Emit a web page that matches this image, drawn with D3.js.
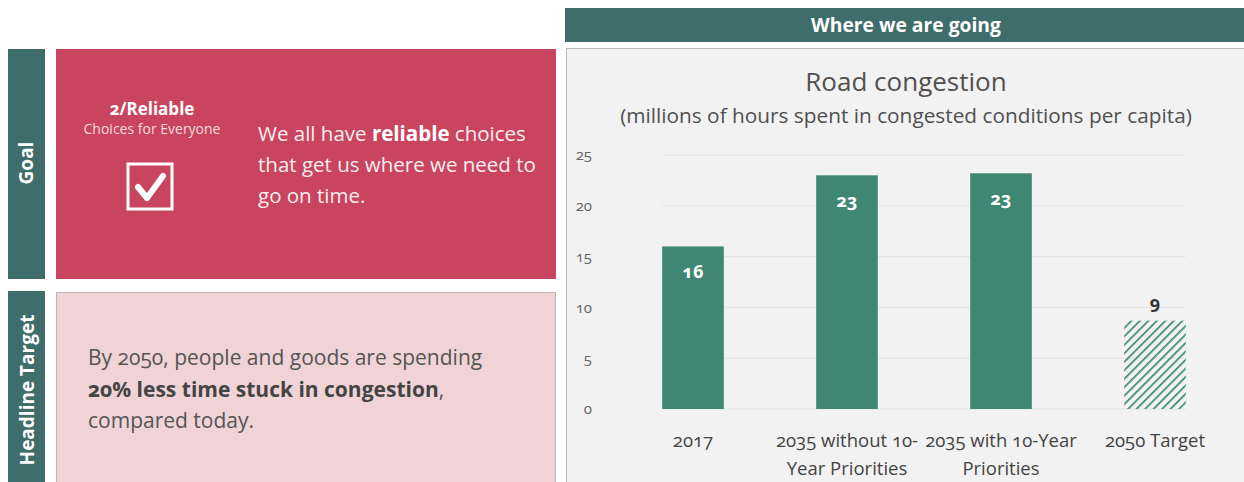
<!DOCTYPE html>
<html>
<head>
<meta charset="utf-8">
<script src="https://cdn.jsdelivr.net/npm/d3@7"></script>
<style>
  body { margin: 0; background: #fff; }
  svg { display: block; font-family: "Open Sans", Lato, sans-serif; font-variant-numeric: oldstyle-nums; }
</style>
</head>
<body>
<svg id="chart" width="1244" height="482"></svg>
<script>
// chart data
var categories = ["2017", "2035 without 10-Year Priorities", "2035 with 10-Year Priorities", "2050 Target"];
var categoryLines = [["2017"], ["2035 without 10-", "Year Priorities"], ["2035 with 10-Year", "Priorities"], ["2050 Target"]];
var values = [16, 23, 23.2, 8.7];
var valueLabels = ["16", "23", "23", "9"];
var hatched = [false, false, false, true];
var yTicks = [0, 5, 10, 15, 20, 25];

var svg = d3.select("#chart");
var teal = "#3f6d6c", green = "#3f8772";

// ---- left: goal panel
svg.append("rect").attr("x", 8).attr("y", 49).attr("width", 37).attr("height", 230).attr("fill", teal);
svg.append("text").attr("transform", "translate(33,163) rotate(-90)")
  .attr("text-anchor", "middle").attr("fill", "#fff").attr("font-weight", "bold")
  .attr("font-size", 19).text("Goal");

svg.append("rect").attr("x", 56).attr("y", 49).attr("width", 500).attr("height", 230).attr("fill", "#c9445f");
svg.append("text").attr("x", 152).attr("y", 115).attr("text-anchor", "middle")
  .attr("fill", "#fff").attr("font-weight", "bold").attr("font-size", 17).text("2/Reliable");
svg.append("text").attr("x", 152).attr("y", 134).attr("text-anchor", "middle")
  .attr("fill", "#f6d9de").attr("font-size", 14).text("Choices for Everyone");
// checkbox
svg.append("rect").attr("x", 128).attr("y", 164).attr("width", 44).attr("height", 45)
  .attr("fill", "none").attr("stroke", "#fff").attr("stroke-width", 3);
svg.append("path").attr("d", "M138,187 L147,198 L163,176")
  .attr("fill", "none").attr("stroke", "#fff").attr("stroke-width", 6)
  .attr("stroke-linecap", "round").attr("stroke-linejoin", "round");

var goalText = svg.append("text").attr("x", 258).attr("fill", "#fbeef0").attr("font-size", 20.5);
var l1 = goalText.append("tspan").attr("x", 258).attr("y", 141);
l1.append("tspan").text("We all have ");
l1.append("tspan").attr("font-weight", "bold").attr("fill", "#fff").text("reliable");
l1.append("tspan").text(" choices");
goalText.append("tspan").attr("x", 258).attr("y", 172).text("that get us where we need to");
goalText.append("tspan").attr("x", 258).attr("y", 203).text("go on time.");

// ---- left: headline target panel
svg.append("rect").attr("x", 8).attr("y", 291).attr("width", 37).attr("height", 191).attr("fill", teal);
svg.append("text").attr("transform", "translate(34,390) rotate(-90)")
  .attr("text-anchor", "middle").attr("fill", "#fff").attr("font-weight", "bold")
  .attr("font-size", 19).text("Headline Target");

svg.append("rect").attr("x", 56.5).attr("y", 292.5).attr("width", 499).attr("height", 200)
  .attr("fill", "#f0d3d6").attr("stroke", "#c4b3b5");
var headText = svg.append("text").attr("fill", "#555").attr("font-size", 21);
headText.append("tspan").attr("x", 88).attr("y", 365).text("By 2050, people and goods are spending");
var h2 = headText.append("tspan").attr("x", 88).attr("y", 397);
h2.append("tspan").attr("font-weight", "bold").attr("fill", "#444").text("20% less time stuck in congestion");
h2.append("tspan").text(",");
headText.append("tspan").attr("x", 88).attr("y", 428).text("compared today.");

// ---- right: header and chart panel
svg.append("rect").attr("x", 565).attr("y", 8).attr("width", 679).attr("height", 34).attr("fill", teal);
svg.append("text").attr("x", 906).attr("y", 32).attr("text-anchor", "middle")
  .attr("fill", "#fff").attr("font-weight", "bold").attr("font-size", 19.3).text("Where we are going");

svg.append("rect").attr("x", 566.5).attr("y", 48.5).attr("width", 690).attr("height", 450)
  .attr("fill", "#f2f2f2").attr("stroke", "#b8b8b8");

svg.append("text").attr("x", 906).attr("y", 91).attr("text-anchor", "middle")
  .attr("fill", "#505050").attr("font-size", 26).text("Road congestion");
svg.append("text").attr("x", 906).attr("y", 123).attr("text-anchor", "middle")
  .attr("fill", "#505050").attr("font-size", 20.8)
  .text("(millions of hours spent in congested conditions per capita)");

var x = d3.scaleBand().domain(categories).range([616, 1232]).paddingInner(0.6).paddingOuter(0.3);
var y = d3.scaleLinear().domain([0, 25]).range([409, 155]);

// hatch pattern
var pat = svg.append("defs").append("pattern").attr("id", "hatch")
  .attr("patternUnits", "userSpaceOnUse").attr("width", 6).attr("height", 6)
  .attr("patternTransform", "rotate(45)");
pat.append("line").attr("x1", 0).attr("y1", 0).attr("x2", 0).attr("y2", 6)
  .attr("stroke", green).attr("stroke-width", 3.4);

// gridlines
svg.append("g").selectAll("line").data(yTicks).join("line")
  .attr("x1", x(categories[0])).attr("x2", x(categories[3]) + x.bandwidth())
  .attr("y1", d => y(d)).attr("y2", d => y(d))
  .attr("stroke", "#e3e3e3").attr("stroke-width", 1);

// y axis
var yAxis = svg.append("g").attr("transform", "translate(592,0)")
  .call(d3.axisLeft(y).tickValues(yTicks).tickSize(0).tickPadding(0));
yAxis.select(".domain").remove();
yAxis.selectAll("text").attr("fill", "#666").attr("font-size", 15).attr("font-family", "'Open Sans', sans-serif");

// bars
svg.append("g").selectAll("rect").data(categories).join("rect")
  .attr("x", d => x(d)).attr("width", x.bandwidth())
  .attr("y", (d, i) => y(values[i])).attr("height", (d, i) => y(0) - y(values[i]))
  .attr("fill", (d, i) => hatched[i] ? "url(#hatch)" : green);

// value labels
svg.append("g").selectAll("text").data(categories).join("text")
  .attr("x", d => x(d) + x.bandwidth() / 2)
  .attr("y", (d, i) => hatched[i] ? y(values[i]) - 12 : y(values[i]) + 32)
  .attr("text-anchor", "middle").attr("font-weight", "bold").attr("font-size", 18)
  .attr("fill", (d, i) => hatched[i] ? "#333" : "#fff")
  .text((d, i) => valueLabels[i]);

// category labels
var cl = svg.append("g").selectAll("text").data(categories).join("text")
  .attr("text-anchor", "middle").attr("fill", "#444").attr("font-size", 18.5);
cl.selectAll("tspan").data((d, i) => categoryLines[i].map(t => ({ t: t, c: d }))).join("tspan")
  .attr("x", d => x(d.c) + x.bandwidth() / 2)
  .attr("y", (d, j) => 447 + j * 28)
  .text(d => d.t);
</script>
</body>
</html>
